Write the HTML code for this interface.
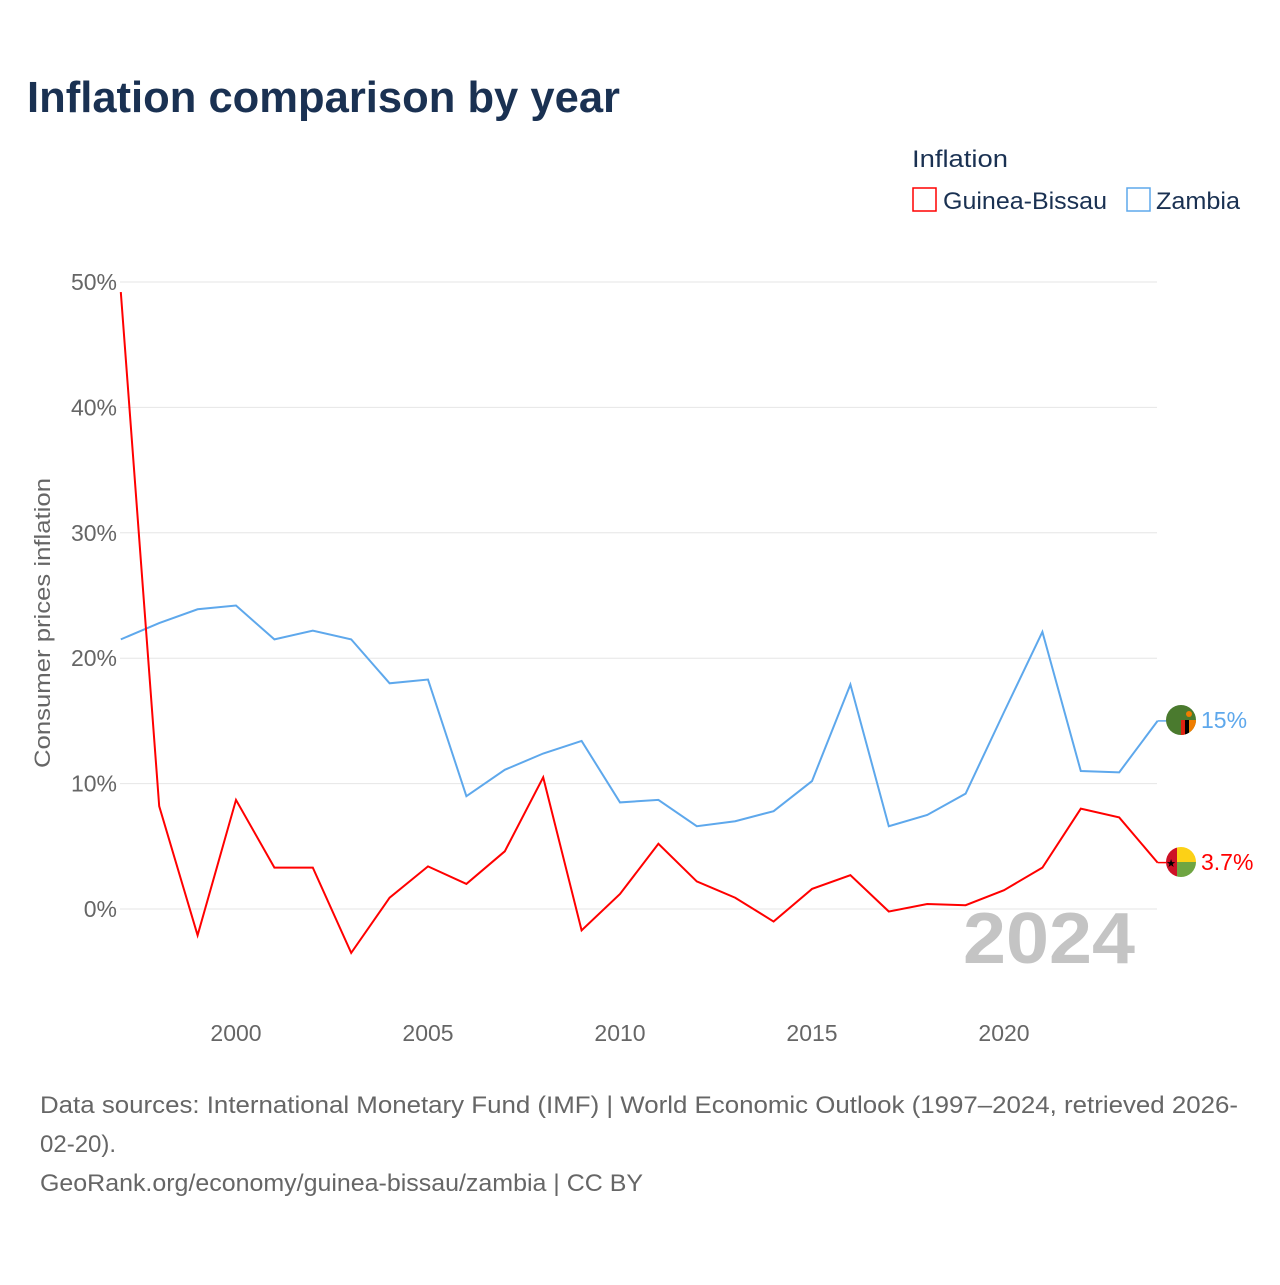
<!DOCTYPE html>
<html><head><meta charset="utf-8"><style>
body{margin:0;background:#fff;font-family:"Liberation Sans",sans-serif;}
</style></head><body>
<svg id="chart" width="1280" height="1280" xmlns="http://www.w3.org/2000/svg">
<text x="27" y="112" font-size="44" font-weight="bold" fill="#1a3152" textLength="593" lengthAdjust="spacingAndGlyphs">Inflation comparison by year</text>
<text x="912" y="167" font-size="24" fill="#1a3152" textLength="96" lengthAdjust="spacingAndGlyphs">Inflation</text>
<g>
<rect x="913" y="188" width="23" height="23" fill="none" stroke="#ff0000" stroke-width="1.5"/>
<text x="943" y="209" font-size="24" fill="#1a3152" textLength="164" lengthAdjust="spacingAndGlyphs">Guinea-Bissau</text></g>
<g>
<rect x="1127" y="188" width="23" height="23" fill="none" stroke="#5ea8ec" stroke-width="1.5"/>
<text x="1156" y="209" font-size="24" fill="#1a3152" textLength="84" lengthAdjust="spacingAndGlyphs">Zambia</text></g>
<g id="grid"></g>
<g id="yt"></g>
<g id="xt"></g>
<text transform="translate(50,623) rotate(-90)" text-anchor="middle" font-size="22" fill="#666" textLength="290" lengthAdjust="spacingAndGlyphs">Consumer prices inflation</text>
<text x="1135" y="963" text-anchor="end" font-size="72" font-weight="bold" fill="#c4c4c4" textLength="172" lengthAdjust="spacingAndGlyphs">2024</text>
<g id="series"></g>
<g>
<clipPath id="cz"><circle cx="1181" cy="720" r="15"/></clipPath>
<g clip-path="url(#cz)"><rect x="1166" y="705" width="30" height="30" fill="#4a7a2e"/>
<rect x="1181" y="720" width="4" height="15" fill="#de2010"/><rect x="1185" y="720" width="4" height="15" fill="#000"/><rect x="1189" y="720" width="7" height="15" fill="#ef7d00"/>
<circle cx="1189" cy="714" r="3" fill="#ef7d00"/></g></g>
<g>
<clipPath id="cg"><circle cx="1181" cy="862" r="15"/></clipPath>
<g clip-path="url(#cg)"><rect x="1166" y="847" width="11" height="30" fill="#ce1126"/>
<rect x="1177" y="847" width="19" height="15" fill="#fcd116"/><rect x="1177" y="862" width="19" height="15" fill="#6fa542"/>
<text x="1171" y="867" font-size="11" text-anchor="middle" fill="#000">★</text></g></g>
<text x="1201" y="728" font-size="23" fill="#5ea8ec">15%</text>
<text x="1201" y="870" font-size="23" fill="#ff0000">3.7%</text>
<text font-size="24" fill="#666">
<tspan x="40" y="1113" textLength="1198" lengthAdjust="spacingAndGlyphs">Data sources: International Monetary Fund (IMF) | World Economic Outlook (1997–2024, retrieved 2026-</tspan>
<tspan x="40" y="1152">02-20).</tspan>
<tspan x="40" y="1191" textLength="603" lengthAdjust="spacingAndGlyphs">GeoRank.org/economy/guinea-bissau/zambia | CC BY</tspan></text>
</svg>
<script>
const years=[1997,1998,1999,2000,2001,2002,2003,2004,2005,2006,2007,2008,2009,2010,2011,2012,2013,2014,2015,2016,2017,2018,2019,2020,2021,2022,2023,2024];
const zambia=[21.5,22.8,23.9,24.2,21.5,22.2,21.5,18.0,18.3,9.0,11.1,12.4,13.4,8.5,8.7,6.6,7.0,7.8,10.2,17.9,6.6,7.5,9.2,15.7,22.1,11.0,10.9,15.0];
const guineaBissau=[49.2,8.2,-2.1,8.7,3.3,3.3,-3.5,0.9,3.4,2.0,4.6,10.5,-1.7,1.2,5.2,2.2,0.9,-1.0,1.6,2.7,-0.2,0.4,0.3,1.5,3.3,8.0,7.3,3.7];
const yTicks=[0,10,20,30,40,50];
const xTicks=[2000,2005,2010,2015,2020];
const NS="http://www.w3.org/2000/svg";
const xs=y=>236+(y-2000)*38.4;
const ys=v=>909-v*12.54;
function mk(t,a,p){const e=document.createElementNS(NS,t);for(const k in a)e.setAttribute(k,a[k]);p.appendChild(e);return e;}
const grid=document.getElementById('grid'),yt=document.getElementById('yt'),xt=document.getElementById('xt'),ser=document.getElementById('series');
yTicks.forEach(v=>{
const l=mk('line',{x1:120,x2:1157,y1:ys(v),y2:ys(v),stroke:'#e6e6e6','stroke-width':1},grid);


const t=mk('text',{x:117,y:ys(v)+8,'text-anchor':'end','font-size':23,fill:'#666'},yt);
t.textContent=v+'%';


});
xTicks.forEach(y=>{
const t=mk('text',{x:xs(y),y:1041,'text-anchor':'middle','font-size':23,fill:'#666'},xt);
t.textContent=y;


});
function line(vals,color,name){
const pts=vals.map((v,i)=>xs(years[i])+','+ys(v)).join(' ');
const p=mk('polyline',{points:pts,fill:'none',stroke:color,'stroke-width':2,'stroke-linejoin':'miter'},ser);


const last=vals[vals.length-1];
const c=mk('line',{x1:xs(years[years.length-1]),x2:xs(years[years.length-1])+9,y1:ys(last),y2:ys(last),stroke:color,'stroke-width':1.5},ser);


}
line(zambia,'#5ea8ec','zambia-line');
line(guineaBissau,'#ff0000','guinea-bissau-line');
</script>
</body></html>
